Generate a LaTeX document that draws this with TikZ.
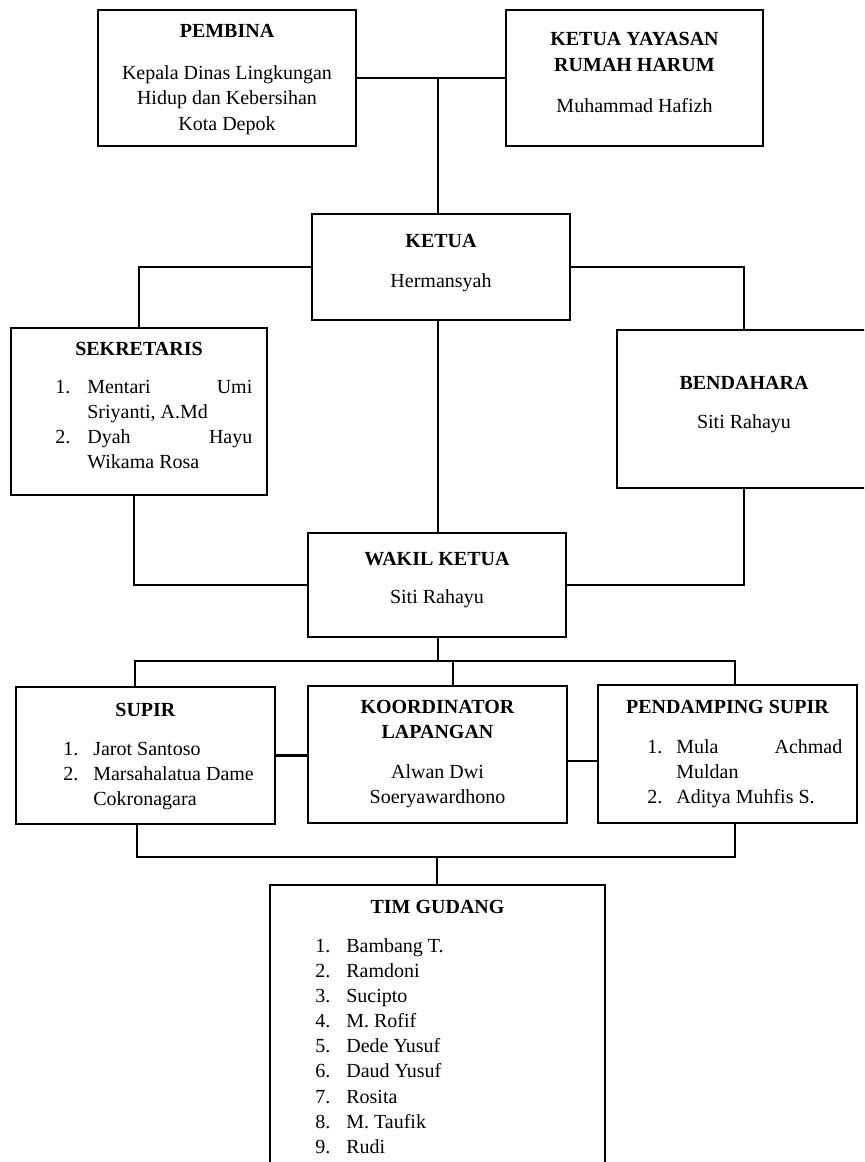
\documentclass[tikz,border=0pt]{standalone}
\usepackage{fontspec}
\setmainfont{Liberation Serif}
\begin{document}
\begin{tikzpicture}[x=0.6pt, y=-0.6pt,
  kotak/.style={draw, line width=1.3pt, inner sep=0pt},
  garis/.style={line width=1.3pt},
  isi/.style={inner sep=0pt, font=\fontsize{12}{15.1}\selectfont}]
\useasboundingbox (0,0) rectangle (864,1162);
\clip (0,0) rectangle (864,1162);

\node[kotak, minimum width=154.8pt, minimum height=81.6pt] (pembina) at (227,78) {};
\node[kotak, minimum width=154.2pt, minimum height=81.6pt] (yayasan) at (634.5,78) {};
\node[kotak, minimum width=154.8pt, minimum height=63.6pt] (ketua) at (441,267) {};
\node[kotak, minimum width=153.6pt, minimum height=100.2pt] (sekretaris) at (139,411.5) {};
\node[kotak, minimum width=152.4pt, minimum height=94.8pt] (bendahara) at (744,409) {};
\node[kotak, minimum width=154.8pt, minimum height=62.4pt] (wakil) at (437,585) {};
\node[kotak, minimum width=155.4pt, minimum height=82.2pt] (supir) at (145.5,755.5) {};
\node[kotak, minimum width=155.4pt, minimum height=82.2pt] (koordinator) at (437.5,754.5) {};
\node[kotak, minimum width=155.4pt, minimum height=82.8pt] (pendamping) at (727.5,754) {};
\node[kotak, minimum width=201pt, minimum height=189pt] (tim) at (437.5,1042.5) {};

\node[isi, anchor=base] (pembina-isi) at (pembina.center |- 0,38) {\begin{tabular}[t]{@{}c@{}}
  \textbf{PEMBINA}\\[10pt] Kepala Dinas Lingkungan\\ Hidup dan Kebersihan\\ Kota Depok\end{tabular}};
\node[isi, anchor=base] (yayasan-isi) at (yayasan.center |- 0,46) {\begin{tabular}[t]{@{}c@{}}
  \textbf{KETUA YAYASAN}\\ \textbf{RUMAH HARUM}\\[9.5pt] Muhammad Hafizh\end{tabular}};
\node[isi, anchor=base] (ketua-isi) at (ketua.center |- 0,247) {\begin{tabular}[t]{@{}c@{}}
  \textbf{KETUA}\\[9pt] Hermansyah\end{tabular}};
\node[isi, anchor=base] (bendahara-isi) at (bendahara.center |- 0,389) {\begin{tabular}[t]{@{}c@{}}
  \textbf{BENDAHARA}\\[8.3pt] Siti Rahayu\end{tabular}};
\node[isi, anchor=base] (wakil-isi) at (wakil.center |- 0,565) {\begin{tabular}[t]{@{}c@{}}
  \textbf{WAKIL KETUA}\\[8pt] Siti Rahayu\end{tabular}};
\node[isi, anchor=base] (koordinator-isi) at (koordinator.center |- 0,713) {\begin{tabular}[t]{@{}c@{}}
  \textbf{KOORDINATOR}\\ \textbf{LAPANGAN}\\[8.9pt] Alwan Dwi\\ Soeryawardhono\end{tabular}};

\node[isi, anchor=base] (sekretaris-judul) at (sekretaris.center |- 0,355) {\textbf{SEKRETARIS}};
\node[isi, anchor=base west] (sekretaris-daftar) at (55,393) {\begin{tabular}[t]{@{}p{19.2pt}@{}l@{}}
  1. & \makebox[99pt][s]{Mentari Umi}\\ & Sriyanti, A.Md\\
  2. & \makebox[99pt][s]{Dyah Hayu}\\ & Wikama Rosa\end{tabular}};
\node[isi, anchor=base] (supir-judul) at (supir.center |- 0,716) {\textbf{SUPIR}};
\node[isi, anchor=base west] (supir-daftar) at (63,755) {\begin{tabular}[t]{@{}p{18pt}@{}l@{}}
  1. & Jarot Santoso\\ 2. & Marsahalatua Dame\\ & Cokronagara\end{tabular}};
\node[isi, anchor=base] (pendamping-judul) at (pendamping.center |- 0,713) {\textbf{PENDAMPING SUPIR}};
\node[isi, anchor=base west] (pendamping-daftar) at (647,753) {\begin{tabular}[t]{@{}p{17.4pt}@{}l@{}}
  1. & \makebox[99.6pt][s]{Mula Achmad}\\ & Muldan\\ 2. & Aditya Muhfis S.\end{tabular}};
\node[isi, anchor=base] (tim-judul) at (tim.center |- 0,913) {\textbf{TIM GUDANG}};
\node[isi, anchor=base west] (tim-daftar) at (315,952) {\begin{tabular}[t]{@{}p{18.6pt}@{}l@{}}
  1. & Bambang T.\\ 2. & Ramdoni\\ 3. & Sucipto\\ 4. & M. Rofif\\ 5. & Dede Yusuf\\
  6. & Daud Yusuf\\ 7. & Rosita\\ 8. & M. Taufik\\ 9. & Rudi\end{tabular}};

\coordinate (poros) at (438,0);
\coordinate (cabang-atas) at (438,661);
\coordinate (cabang-bawah) at (437,857);

\draw[garis] (pembina.east) -- (yayasan.west);
\draw[garis] (poros |- pembina.east) -- (poros |- ketua.north);
\draw[garis] (ketua.west) -| (sekretaris.north);
\draw[garis] (ketua.east) -| (bendahara.north);
\draw[garis] (poros |- ketua.south) -- (poros |- wakil.north);
\draw[garis] (sekretaris.south -| 134,0) |- (wakil.west);
\draw[garis] (bendahara.south) |- (wakil.east);
\draw[garis] (poros |- wakil.south) -- (cabang-atas);
\draw[garis] (supir.north -| 135,0) |- (cabang-atas) -| (pendamping.north -| 735,0);
\draw[garis] (cabang-atas -| 453,0) -- (koordinator.north -| 453,0);
\draw[garis] (supir.east) -- (supir.east -| koordinator.west);
\draw[garis] (koordinator.east |- 0,761) -- (pendamping.west |- 0,761);
\draw[garis] (supir.south -| 137,0) |- (cabang-bawah) -| (pendamping.south -| 735,0);
\draw[garis] (cabang-bawah) -- (cabang-bawah |- tim.north);
\end{tikzpicture}
\end{document}
